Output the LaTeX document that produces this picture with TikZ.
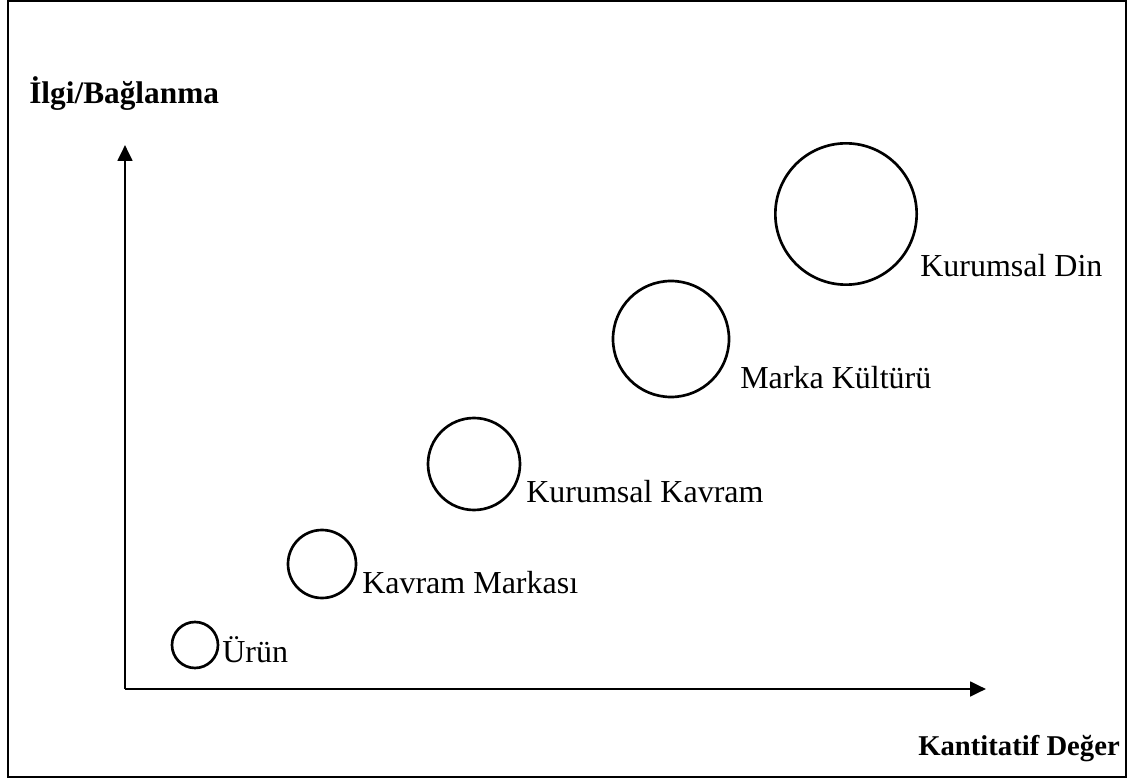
\documentclass[tikz,border=0pt]{standalone}
\usepackage{fontspec}
\setmainfont{Liberation Serif}
\usetikzlibrary{arrows.meta}
\begin{document}
\begin{tikzpicture}[x=0.75pt,y=-0.75pt,
  frame/.style={draw=black,line width=1.3pt},
  axis/.style={draw=black,line width=2.1pt,-{Triangle[length=12pt,width=11pt]}},
  bubble/.style={circle,draw=black,line width=2pt,inner sep=0pt,minimum size=#1},
  tag/.style={anchor=base west,inner sep=0pt,font=\fontsize{24}{28}\selectfont},
  ytitle/.style={anchor=base west,inner sep=0pt,font=\fontsize{23.5}{28}\selectfont\bfseries},
  xtitle/.style={anchor=base east,inner sep=0pt,font=\fontsize{21.5}{25}\selectfont\bfseries}]
  \useasboundingbox (0,0) rectangle (1131,780);
  \draw[frame] (8,1) rectangle (1126,777);
  % axes
  \coordinate (origin) at (125,689);
  \coordinate (ytip) at (125,145);
  \coordinate (xtip) at (986,689);
  \draw[axis] (origin) -- (ytip);
  \draw[axis] (origin) -- (xtip);
  \node[ytitle] (ylab) at (29,104) {İlgi/Bağlanma};
  \node[xtitle] (xlab) at (1120,755) {Kantitatif Değer};
  % bubbles, growing with value (diameters in px * 0.75)
  \node[bubble=34.5pt] (b1) at (195,645) {};
  \node[bubble=51pt] (b2) at (322,564) {};
  \node[bubble=69pt] (b3) at (474,464) {};
  \node[bubble=87pt] (b4) at (671,339) {};
  \node[bubble=106pt] (b5) at (846,214) {};
  % labels
  \node[tag] (t1) at (222,662) {Ürün};
  \node[tag] (t2) at (362,593) {Kavram Markası};
  \node[tag] (t3) at (526,502) {Kurumsal Kavram};
  \node[tag] (t4) at (740,388) {Marka Kültürü};
  \node[tag] (t5) at (920,277) {Kurumsal Din};
\end{tikzpicture}
\end{document}
